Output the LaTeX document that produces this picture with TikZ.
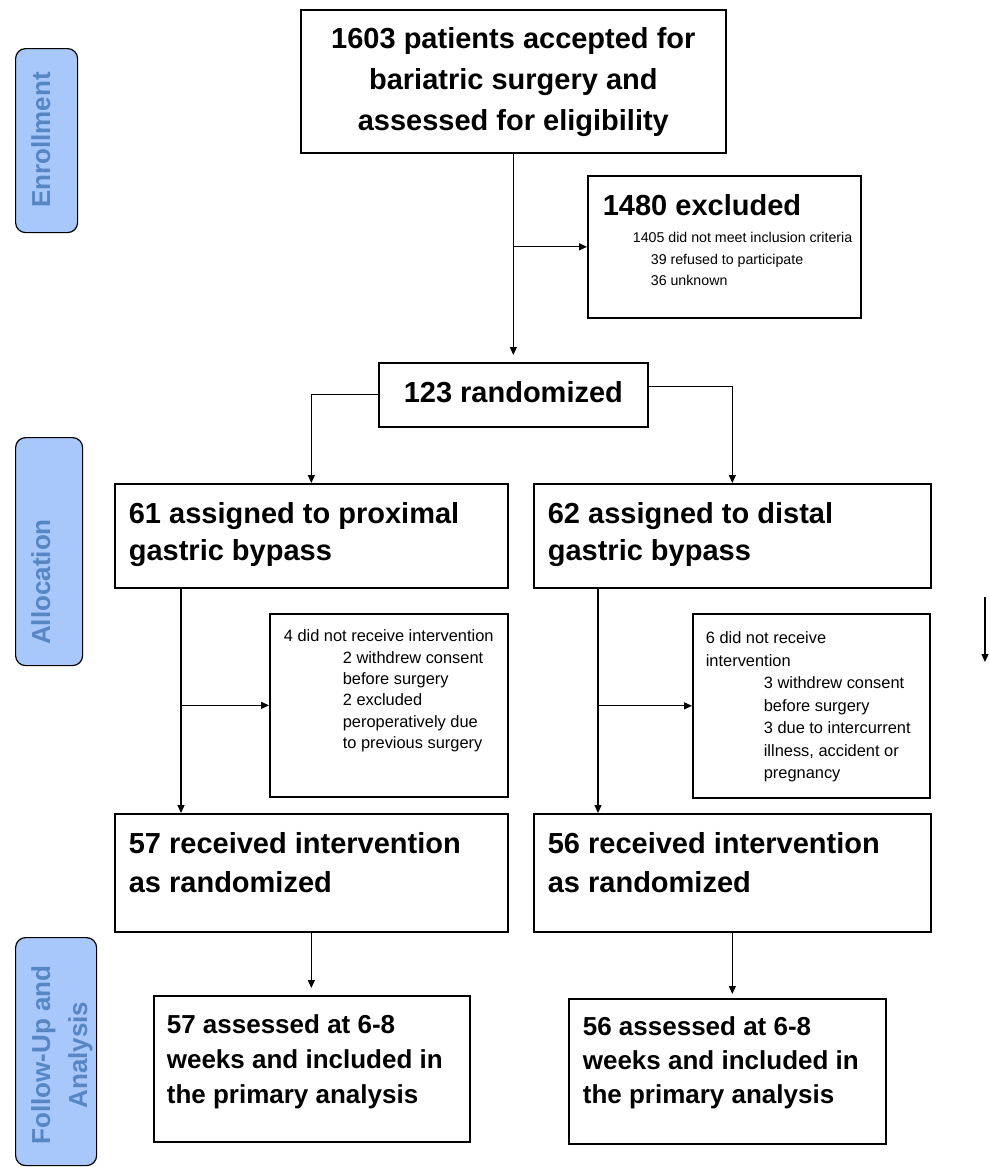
\documentclass[tikz,border=0pt]{standalone}
\usepackage{fontspec}
\setmainfont{Liberation Sans}
\usetikzlibrary{arrows.meta}
\definecolor{sidefill}{RGB}{168,199,250}
\definecolor{sidetext}{RGB}{86,134,196}
% parbox of fixed width/height, content at top after a vertical offset
\newcommand\bt[4]{\parbox[c][#2][t]{#1}{\vspace*{#3}#4}}
\begin{document}
\begin{tikzpicture}[x=1pt,y=-1pt,
  box/.style={draw, line width=1.7pt, inner sep=0pt, anchor=north west},
  conn/.style={line width=1.2pt, -{Triangle[length=8pt,width=7pt]}},
  side/.style={draw, line width=1.2pt, fill=sidefill, rounded corners=10pt, inner sep=0pt, anchor=north west},
  sidetxt/.style={rotate=90, anchor=base, text=sidetext, inner sep=0pt, font=\fontsize{26}{34}\selectfont\bfseries}]
\useasboundingbox (0,0) rectangle (990,1167);

% side phase labels
\node[side, minimum width=62pt, minimum height=184pt] (enr) at (15,48) {};
\node[side, minimum width=67pt, minimum height=228pt] (alo) at (15,437) {};
\node[side, minimum width=81pt, minimum height=228pt] (fol) at (15,937) {};
\node[sidetxt] (enT) at (50,140) {Enrollment};
\node[sidetxt] (alT) at (50,582) {Allocation};
\node[sidetxt] (fuT1) at (50,1055) {Follow-Up and};
\node[sidetxt] (fuT2) at (87,1055) {Analysis};

% boxes
\node[box] (top) at (300,9) {\bt{425pt}{143pt}{10.3pt}{\centering\fontsize{29}{41}\selectfont\bfseries\strut 1603 patients accepted for\\ bariatric surgery and\\ assessed for eligibility}};

\node[box] (excl) at (587,175) {\bt{273pt}{142pt}{15.5pt}{\raggedright{\fontsize{29}{35}\selectfont\bfseries\hspace*{15pt}\strut 1480 excluded\par}\vspace{5.5pt}{\fontsize{14.2}{21.5}\selectfont\hspace*{45pt}1405 did not meet inclusion criteria\\ \hspace*{63pt}39 refused to participate\\ \hspace*{63pt}36 unknown\par}}};

\node[box] (rand) at (378,362) {\bt{269pt}{64pt}{14.1pt}{\centering\fontsize{29}{37}\selectfont\bfseries\strut 123 randomized}};

\node[box] (allocL) at (114,483) {\bt{393pt}{104pt}{14.1pt}{\raggedright\fontsize{29}{37}\selectfont\bfseries\hspace*{14pt}\strut 61 assigned to proximal\\ \hspace*{14pt}gastric bypass}};
\node[box] (allocR) at (533,483) {\bt{397pt}{104pt}{14.1pt}{\raggedright\fontsize{29}{37}\selectfont\bfseries\hspace*{14pt}\strut 62 assigned to distal\\ \hspace*{14pt}gastric bypass}};

\node[box] (smallL) at (269,613) {\bt{238pt}{183pt}{13.1pt}{\raggedright\fontsize{16.4}{21.3}\selectfont\hspace*{14pt}\strut 4 did not receive intervention\\ \hspace*{73pt}2 withdrew consent\\ \hspace*{73pt}before surgery\\ \hspace*{73pt}2 excluded\\ \hspace*{73pt}peroperatively due\\ \hspace*{73pt}to previous surgery}};
\node[box] (smallR) at (692,613) {\bt{237pt}{184pt}{14.25pt}{\raggedright\fontsize{16.4}{22.5}\selectfont\hspace*{13pt}\strut 6 did not receive\\ \hspace*{13pt}intervention\\ \hspace*{71pt}3 withdrew consent\\ \hspace*{71pt}before surgery\\ \hspace*{71pt}3 due to intercurrent\\ \hspace*{71pt}illness, accident or\\ \hspace*{71pt}pregnancy}};

\node[box] (recL) at (114,813) {\bt{393pt}{118pt}{12.7pt}{\raggedright\fontsize{29}{39}\selectfont\bfseries\hspace*{14pt}\strut 57 received intervention\\ \hspace*{14pt}as randomized}};
\node[box] (recR) at (533,813) {\bt{397pt}{118pt}{12.7pt}{\raggedright\fontsize{29}{39}\selectfont\bfseries\hspace*{14pt}\strut 56 received intervention\\ \hspace*{14pt}as randomized}};

\node[box] (fuL) at (153,995) {\bt{316pt}{146pt}{13.2pt}{\raggedright\fontsize{26}{35}\selectfont\bfseries\hspace*{13pt}\strut 57 assessed at 6-8\\ \hspace*{13pt}weeks and included in\\ \hspace*{13pt}the primary analysis}};
\node[box] (fuR) at (568,998) {\bt{317pt}{145pt}{13.2pt}{\raggedright\fontsize{26}{34}\selectfont\bfseries\hspace*{14pt}\strut 56 assessed at 6-8\\ \hspace*{14pt}weeks and included in\\ \hspace*{14pt}the primary analysis}};

% connectors
\draw[conn, shorten >=7pt] (top.south) -- (top.south |- rand.north);
\draw[conn] (top.south |- excl.west) -- (excl.west);
\draw[conn] (rand.west) -| (allocL.north);
\draw[conn] ([yshift=8pt]rand.east) -| (allocR.north);
\coordinate (vL) at ([xshift=67pt]allocL.south west);
\coordinate (vR) at ([xshift=65pt]allocR.south west);
\draw[conn] (vL) -- (vL |- recL.north);
\draw[conn] (vL |- smallL.west) -- (smallL.west);
\draw[conn] (vR) -- (vR |- recR.north);
\draw[conn] (vR |- smallR.west) -- (smallR.west);
\draw[conn, shorten >=7pt] (recL.south) -- (recL.south |- fuL.north);
\draw[conn, shorten >=4pt] (recR.south) -- (recR.south |- fuR.north);
\coordinate (s1) at (985,597);
\coordinate (s2) at (985,662);
\draw[conn] (s1) -- (s2);
\end{tikzpicture}
\end{document}
